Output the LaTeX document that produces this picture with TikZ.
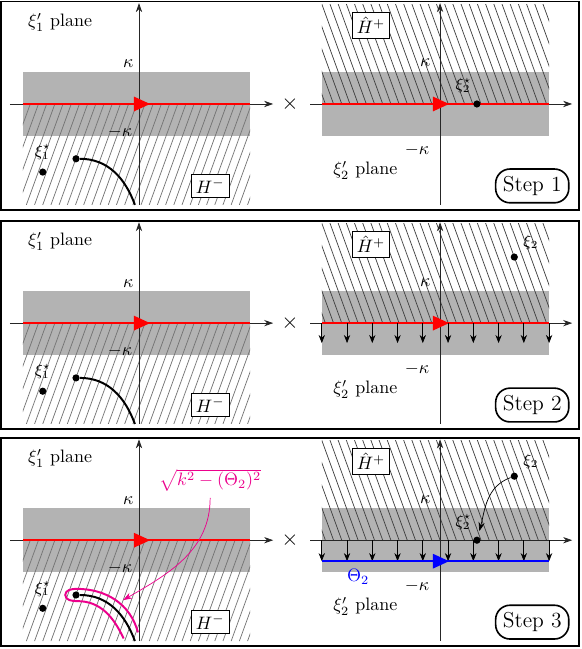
\documentclass[tikz,border=0pt]{standalone}
\usepackage{tikz}
\definecolor{bandgray}{RGB}{179,179,179}
\usetikzlibrary{arrows.meta, decorations.markings, positioning}

\begin{document}
\begin{tikzpicture}[
    panelframe/.style={draw=black, line width=1pt},
    bandfill/.style={fill=bandgray},
    hatchleft/.style={draw=black!55, line width=0.4pt},
    hatchright/.style={draw=black!75, line width=0.4pt},
    axisline/.style={draw=black!85, line width=0.4pt, -{Stealth[length=5pt,width=3.5pt]}},
    pathline/.style={line width=1pt, postaction={decorate, decoration={markings,
                mark=at position 0.56 with {\arrow{Triangle[length=9pt,width=8pt]}}}}},
    pointdot/.style={circle, fill=black, inner sep=0pt, minimum size=4pt},
    regionbox/.style={draw, fill=white, inner sep=2.5pt, line width=0.4pt},
    stepbox/.style={draw, line width=0.9pt, rounded corners=8pt, inner sep=4pt, font=\large},
    downarrow/.style={-{Stealth[length=4.5pt,width=3.5pt]}, line width=0.4pt}
]
    \useasboundingbox (-2.715,-10.645) rectangle (8.633,2.031);

    % the three panels share the two planes
    \foreach \p/\s in {0/1,-4.28/2,-8.52/3}{
    \begin{scope}[yshift=\p cm]
        \draw[panelframe] (-2.695,-2.07) rectangle (8.594,2.0);

        % xi_1' plane
        \fill[bandfill] (-2.27,-0.63) rectangle (2.17,0.63);
        \begin{scope}
            \clip (-2.27,-1.97) rectangle (2.17,0);
            \foreach \x in {-3,-2.84,...,2.2}
                \draw[hatchleft] (\x,-1.97) -- ++(0.8,2.2);
        \end{scope}
        \draw[axisline] (-2.52,0) -- (2.62,0);
        \draw[axisline] (0,-1.97) -- (0,1.97);
        \draw[pathline, red] (-2.27,0) -- (2.17,0);
        \node (kapA\s) at (-0.21,0.78) {$\kappa$};
        \node (mkapA\s) at (-0.37,-0.55) {$-\kappa$};
        \node (planeA\s) at (-1.54,1.60) {$\xi_1'$ plane};
        \node[regionbox] (hminus\s) at (1.39,-1.60) {$H^-$};
        \node[pointdot] (xione\s) at (-1.88,-1.33) {};
        \node[font=\small, above=1pt of xione\s] (xionelbl\s) {$\xi_1^\star$};
        \node[pointdot] (cut\s) at (-1.23,-1.07) {};
        \coordinate (cutend\s) at (-0.08,-1.97);
        \draw[line width=1.1pt] (cut\s) to[out=0,in=110] (cutend\s);

        \node[font=\large] (times\s) at (2.95,0) {$\times$};

        % xi_2' plane
        \begin{scope}[xshift=5.88cm]
            \fill[bandfill] (-2.31,-0.63) rectangle (2.13,0.63);
            \begin{scope}
                \clip (-2.31,0) rectangle (2.13,1.95);
                \foreach \x in {-2.4,-2.24,...,3}
                    \draw[hatchright] (\x,0) -- ++(-0.72,1.98);
            \end{scope}
            \draw[axisline] (-2.54,0) -- (2.58,0);
            \draw[axisline] (0,-1.97) -- (0,1.97);
            \node (kapB\s) at (-0.29,0.80) {$\kappa$};
            \node (mkapB\s) at (-0.45,-0.90) {$-\kappa$};
            \node (planeB\s) at (-1.46,-1.29) {$\xi_2'$ plane};
            \node[regionbox] (hplus\s) at (-1.35,1.54) {$\hat{H}^+$};
            \node[stepbox] (step\s) at (1.80,-1.60) {Step \s};
        \end{scope}
    \end{scope}
    }

    % Step 1
    \begin{scope}[xshift=5.88cm]
        \draw[pathline, red] (-2.31,0) -- (2.13,0);
        \node[pointdot] (xtwostarA) at (0.72,0) {};
        \node[font=\small, above left=1pt and -2pt of xtwostarA] {$\xi_2^\star$};
    \end{scope}

    % Step 2
    \begin{scope}[xshift=5.88cm, yshift=-4.28cm]
        \draw[pathline, red] (-2.31,0) -- (2.13,0);
        \foreach \i in {0,...,9}
            \draw[downarrow] ({-2.31+0.4933*\i},0) -- ++(0,-0.39);
        \node[pointdot] (xtwoB) at (1.45,1.29) {};
        \node[font=\small, above right=-1pt and 0pt of xtwoB] {$\xi_2$};
    \end{scope}

    % Step 3
    \begin{scope}[xshift=5.88cm, yshift=-8.52cm]
        \foreach \i in {0,...,9}
            \draw[downarrow] ({-2.31+0.4933*\i},0) -- ++(0,-0.41);
        \draw[pathline, blue] (-2.31,-0.41) -- (2.13,-0.41);
        \node[blue] (theta) at (-1.60,-0.72) {$\Theta_2$};
        \node[pointdot] (xtwoC) at (1.45,1.25) {};
        \node[font=\small, above right=-1pt and 0pt of xtwoC] {$\xi_2$};
        \node[pointdot] (xtwostarC) at (0.72,0) {};
        \node[font=\small, above left=1pt and -2pt of xtwostarC] {$\xi_2^\star$};
        \draw[-{Stealth[length=5pt,width=3.5pt]}, line width=0.4pt, shorten >=3pt]
            (xtwoC) to[out=200,in=75] (xtwostarC);
    \end{scope}
    \begin{scope}[yshift=-8.52cm]
        \draw[magenta, line width=1.1pt] (-0.02,-1.80) to[out=105,in=0] (-1.22,-0.95)
            to[out=180,in=90] (-1.44,-1.07) to[out=-90,in=180] (-1.2,-1.19)
            to[out=0,in=115] (-0.30,-1.92);
        \node[magenta] (sqrtlbl) at (1.39,1.17) {$\sqrt{k^2-(\Theta_2)^2}$};
        \coordinate (cuttip) at (-0.31,-1.17);
        \draw[magenta, line width=0.4pt, -{Stealth[length=5pt,width=3.5pt]}]
            (sqrtlbl.south) to[out=-90,in=30] (cuttip);
    \end{scope}
\end{tikzpicture}
\end{document}
